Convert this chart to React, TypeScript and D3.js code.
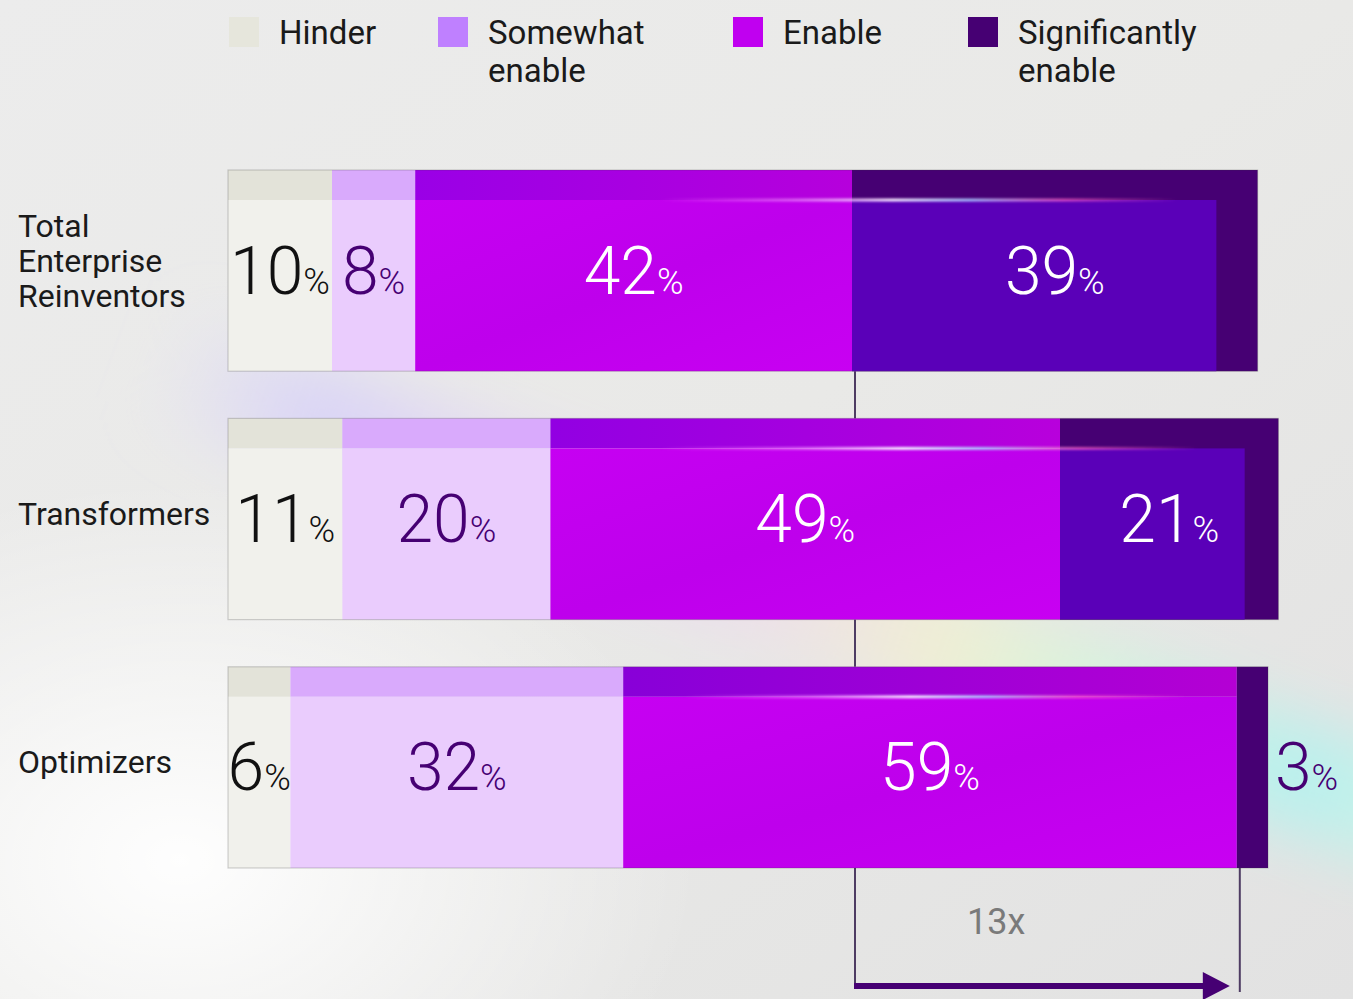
import React from "react";
import * as d3 from "d3";

const categories = ["Total Enterprise Reinventors", "Transformers", "Optimizers"];
const categoryLines = [["Total", "Enterprise", "Reinventors"], ["Transformers"], ["Optimizers"]];
const seriesNames = ["Hinder", "Somewhat enable", "Enable", "Significantly enable"];
const legendLines = [["Hinder"], ["Somewhat", "enable"], ["Enable"], ["Significantly", "enable"]];
const hinder = [10, 11, 6];
const somewhatEnable = [8, 20, 32];
const enable = [42, 49, 59];
const significantlyEnable = [39, 21, 3];
const multiplierLabel = "13x";

const W = 1353;
const H = 999;

const legendColors = ["#e6e6dc", "#bf80ff", "#c000f0", "#460073"];
const topColors = ["#e3e3d9", "#d9aafc", null, "#460073"];
const bodyColors = ["#f1f1ec", "#eaccfd", "#c400f0", "#5a00b8"];
const labelColors = ["#111111", "#460073", "#ffffff", "#ffffff"];

export default function App() {
  const x = d3.scaleLinear().domain([0, 100]).range([228, 1268]);
  const y = d3.scaleBand<string>().domain(categories).range([170, 868]).paddingInner(0.19).paddingOuter(0);
  const bw = y.bandwidth();
  const band = 30;
  const series = [hinder, somewhatEnable, enable, significantlyEnable];
  const stack = d3.stack<any>().keys(seriesNames);
  const rows = categories.map((c, i) => {
    const o: any = { cat: c };
    seriesNames.forEach((s, k) => (o[s] = series[k][i]));
    return o;
  });
  const stacked = stack(rows);

  const font = "Roboto, 'Noto Sans', sans-serif";
  const numFont = "Roboto, sans-serif";

  const sigStart = (i: number) => x(stacked[3][i][0]);
  const c0 = sigStart(0) + 3;
  const c2 = sigStart(2) + 3;
  const yb = (i: number) => (y(categories[i]) as number);
  const arrowY = 986;

  return (
    <svg width={W} height={H} style={{ display: "block", position: "absolute", left: 0, top: 0 }}>
      <defs>
        <linearGradient id="bg" x1="0" y1="0" x2="1" y2="1">
          <stop offset="0" stopColor="#ececec" />
          <stop offset="0.5" stopColor="#e9e9e7" />
          <stop offset="1" stopColor="#e2e2e2" />
        </linearGradient>
        <radialGradient id="whiteBlob" cx="0.5" cy="0.5" r="0.5">
          <stop offset="0" stopColor="#ffffff" stopOpacity="0.95" />
          <stop offset="1" stopColor="#ffffff" stopOpacity="0" />
        </radialGradient>
        <linearGradient id="streak" x1="0" y1="0" x2="1" y2="0">
          <stop offset="0" stopColor="#d9d4f7" stopOpacity="0" />
          <stop offset="0.12" stopColor="#d8d2f8" stopOpacity="0.9" />
          <stop offset="0.45" stopColor="#efd9ee" stopOpacity="0.7" />
          <stop offset="0.6" stopColor="#f2f0cf" stopOpacity="0.8" />
          <stop offset="0.72" stopColor="#d3f6dc" stopOpacity="0.9" />
          <stop offset="0.88" stopColor="#b8f0ee" stopOpacity="1" />
          <stop offset="1" stopColor="#c9f5e6" stopOpacity="0.8" />
        </linearGradient>
        <filter id="blur" x="-20%" y="-60%" width="140%" height="220%">
          <feGaussianBlur stdDeviation="30" />
        </filter>
        <linearGradient id="enableTop0" x1="0" y1="0" x2="1" y2="0">
          <stop offset="0" stopColor="#9a00e6" />
          <stop offset="1" stopColor="#b600dc" />
        </linearGradient>
        <linearGradient id="enableTop1" x1="0" y1="0" x2="1" y2="0">
          <stop offset="0" stopColor="#9200e2" />
          <stop offset="1" stopColor="#b800dc" />
        </linearGradient>
        <linearGradient id="enableTop2" x1="0" y1="0" x2="1" y2="0">
          <stop offset="0" stopColor="#8800d8" />
          <stop offset="1" stopColor="#b400d4" />
        </linearGradient>
        <linearGradient id="enableBody" x1="0" y1="0" x2="1" y2="1">
          <stop offset="0" stopColor="#c600f2" />
          <stop offset="0.5" stopColor="#be00ec" />
          <stop offset="1" stopColor="#c800f2" />
        </linearGradient>
        <linearGradient id="glow" x1="0" y1="0" x2="1" y2="0">
          <stop offset="0" stopColor="#ff80ff" stopOpacity="0" />
          <stop offset="0.25" stopColor="#f090ff" stopOpacity="0.6" />
          <stop offset="0.45" stopColor="#f4e6ff" stopOpacity="1" />
          <stop offset="0.6" stopColor="#a8c8ff" stopOpacity="0.9" />
          <stop offset="0.78" stopColor="#ff60c8" stopOpacity="0.7" />
          <stop offset="1" stopColor="#ff60c8" stopOpacity="0" />
        </linearGradient>
        <filter id="glowBlur" x="-10%" y="-200%" width="120%" height="500%">
          <feGaussianBlur stdDeviation="1.2" />
        </filter>
      </defs>

      <rect x={0} y={0} width={W} height={H} fill="url(#bg)" />
      <ellipse cx={180} cy={860} rx={520} ry={380} fill="url(#whiteBlob)" />
      <g transform="translate(160,362) rotate(20)" filter="url(#blur)">
        <rect x={0} y={-55} width={1380} height={110} fill="url(#streak)" />
      </g>

      {seriesNames.map((s, k) => {
        const lx = [229, 438, 733, 968][k];
        return (
          <g key={s}>
            <rect x={lx} y={17} width={30} height={30} fill={legendColors[k]} />
            <text x={lx + 50} y={44} fontFamily={font} fontSize={33} fill="#1a1a1a">
              {legendLines[k].map((l, j) => (
                <tspan key={j} x={lx + 50} dy={j === 0 ? 0 : 38}>
                  {l}
                </tspan>
              ))}
            </text>
          </g>
        );
      })}

      {categories.map((c, i) => {
        const cy = (y(c) as number) + bw / 2;
        const lines = categoryLines[i];
        const n = lines.length;
        return (
          <text key={c} fontFamily={font} fontSize={32} fill="#1a1a1a">
            {lines.map((l, j) => (
              <tspan key={j} x={18} y={cy + 6 - (n - 1) * 2.5 + (j - (n - 1) / 2) * 35}>
                {l}
              </tspan>
            ))}
          </text>
        );
      })}

      <g stroke="#4e3c63" strokeWidth={2} fill="none">
        <line x1={c0} x2={c0} y1={yb(0) + bw} y2={yb(1)} />
        <line x1={c0} x2={c0} y1={yb(1) + bw} y2={yb(2)} />
        <line x1={c0} x2={c0} y1={yb(2) + bw} y2={arrowY} />
        <line x1={c2} x2={c2} y1={yb(2) + bw} y2={992} />
      </g>
      <line x1={c0 - 1} x2={c2 - 34} y1={arrowY} y2={arrowY} stroke="#460073" strokeWidth={6} />
      <path d={`M${c2 - 37},${arrowY - 14} L${c2 - 10},${arrowY} L${c2 - 37},${arrowY + 14} Z`} fill="#460073" />
      <text x={c0 + 112} y={934} fontFamily={font} fontSize={36} fill="#7a7a7a">
        {multiplierLabel}
      </text>

      {categories.map((c, i) => {
        const by = y(c) as number;
        const segs = stacked.map((ser) => ser[i]);
        const x0 = x(segs[0][0]);
        const x1 = x(segs[3][1]);
        const eStart = x(segs[2][0]);
        return (
          <g key={c}>
            {segs.map((sg, k) => {
              const sx0 = x(sg[0]);
              const sx1 = x(sg[1]);
              const w = sx1 - sx0;
              if (k === 3) {
                const depth = 25 + 0.04 * w;
                return (
                  <g key={k}>
                    <rect x={sx0} y={by} width={w} height={bw} fill={topColors[3] as string} />
                    {w > 60 && (
                      <rect x={sx0} y={by + band} width={w - depth} height={bw - band} fill={bodyColors[3]} />
                    )}
                  </g>
                );
              }
              if (k === 2) {
                return (
                  <g key={k}>
                    <rect x={sx0} y={by} width={w} height={band} fill={`url(#enableTop${i})`} />
                    <rect x={sx0} y={by + band} width={w} height={bw - band} fill="url(#enableBody)" />
                  </g>
                );
              }
              return (
                <g key={k}>
                  <rect x={sx0} y={by} width={w} height={band} fill={topColors[k] as string} />
                  <rect x={sx0} y={by + band} width={w} height={bw - band} fill={bodyColors[k]} />
                </g>
              );
            })}
            <rect x={x0} y={by} width={x1 - x0} height={bw} fill="none" stroke="rgba(60,60,60,0.22)" strokeWidth={1.2} />
            <rect
              x={Math.max(eStart + 60, 660)}
              y={by + band - 1.5}
              width={Math.min(x1 - 80, 1200) - Math.max(eStart + 60, 660)}
              height={3}
              fill="url(#glow)"
              filter="url(#glowBlur)"
            />
            {segs.map((sg, k) => {
              const v = series[k][i];
              const sx0 = x(sg[0]);
              const sx1 = x(sg[1]);
              const w = sx1 - sx0;
              const outside = w < 50;
              const tx = outside ? sx1 + 7 : (sx0 + sx1) / 2;
              return (
                <text
                  key={"t" + k}
                  x={tx}
                  y={by + bw / 2 + 23}
                  textAnchor={outside ? "start" : "middle"}
                  fontFamily={numFont}
                  fontWeight={300}
                  fill={outside ? "#460073" : labelColors[k]}
                >
                  <tspan fontSize={66}>{v}</tspan>
                  <tspan fontSize={36}>%</tspan>
                </text>
              );
            })}
          </g>
        );
      })}
    </svg>
  );
}
